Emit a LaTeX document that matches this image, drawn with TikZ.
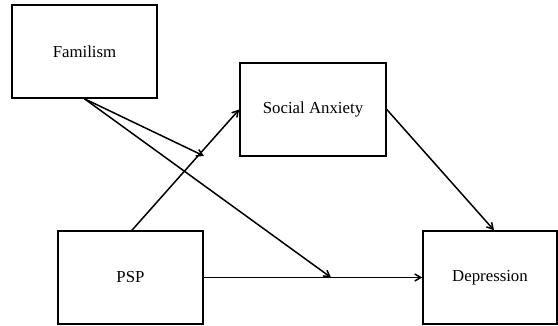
\documentclass[tikz,border=0pt]{standalone}
\usepackage{fontspec}
\setmainfont{Liberation Serif}
\usetikzlibrary{arrows.meta,calc}
\begin{document}
\begin{tikzpicture}[x=1pt,y=-1pt,
  varbox/.style={draw, line width=1.6pt, minimum width=145pt, minimum height=93pt, inner sep=0pt, font=\fontsize{16.8}{20}\selectfont},
  path/.style={draw, line width=1.5pt, -{Straight Barb[length=6pt,width=7pt,line width=1.5pt]}}]
\useasboundingbox (0,0) rectangle (558,325);
\node[varbox] (fam) at (84.5,51.5) {Familism};
\node[varbox, minimum width=146pt] (soc) at (313,109.5) {Social Anxiety};
\node[varbox] (psp) at (130.5,277.5) {PSP};
\node[varbox, minimum width=134pt] (dep) at (490,277.5) {Depression};
\coordinate (m1) at (204,156);
\coordinate (m2) at (331,277.5);
\draw[path] (fam.south) -- (m1);
\draw[path] (fam.south) -- (m2);
\draw[path] ($(psp.north)+(1.5,0)$) -- (soc.west);
\draw[path] (soc.east) -- ($(dep.north)+(4,0)$);
\draw[path] (psp.east) -- (dep.west);
\end{tikzpicture}
\end{document}
